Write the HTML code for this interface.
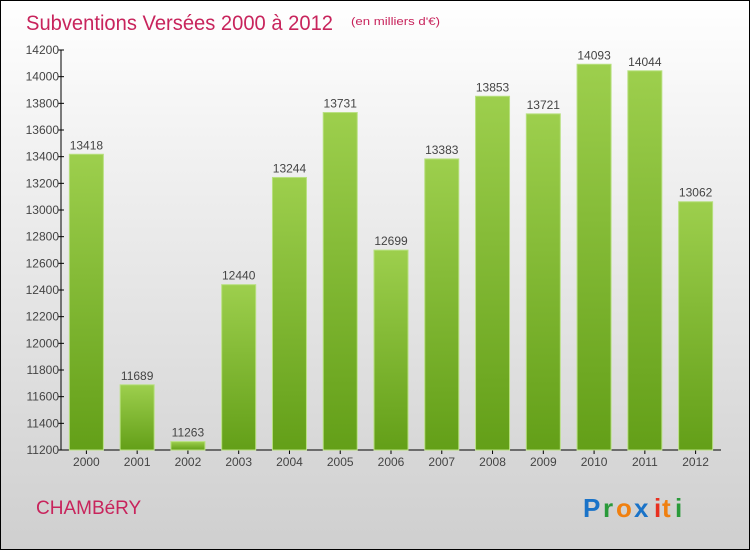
<!DOCTYPE html>
<html><head><meta charset="utf-8"><style>
body{margin:0;width:750px;height:550px;overflow:hidden;font-family:"Liberation Sans",sans-serif}
#frame{position:absolute;left:0;top:0;width:748px;height:548px;border:1px solid #000;background:linear-gradient(#ffffff 0%,#f0f0f0 30%,#cfcfcf 100%)}
</style></head><body>
<div id="frame">
<svg width="750" height="550" style="position:absolute;left:-1px;top:-1px" id="chart">
<defs><linearGradient id="g" x1="0" y1="0" x2="0" y2="1"><stop offset="0" stop-color="#9dcf4d"/><stop offset="1" stop-color="#639f18"/></linearGradient></defs>
<text x="26" y="30" font-size="21" fill="#c8245c" textLength="307" lengthAdjust="spacingAndGlyphs">Subventions Versées 2000 à 2012</text>
<text x="351" y="25" font-size="11" fill="#c8245c" textLength="89" lengthAdjust="spacingAndGlyphs">(en milliers d'€)</text>
<text x="36" y="514" font-size="19" fill="#c8245c">CHAMBéRY</text>
<g font-size="26" font-weight="bold">
<text x="583" y="517" fill="#1a73c8">P</text><text x="603" y="517" fill="#2a9a3a">r</text><text x="616" y="517" fill="#f08010">o</text><text x="634" y="517" fill="#1a73c8">x</text><text x="654" y="517" fill="#e83020">i</text><text x="662" y="517" fill="#f08010">t</text><text x="675" y="517" fill="#2a9a3a">i</text>
</g>
<g id="axes"></g><g id="bars"></g>
</svg></div>
<script>
const years=["2000","2001","2002","2003","2004","2005","2006","2007","2008","2009","2010","2011","2012"];
const values=[13418,11689,11263,12440,13244,13731,12699,13383,13853,13721,14093,14044,13062];
const ticks=[11200,11400,11600,11800,12000,12200,12400,12600,12800,13000,13200,13400,13600,13800,14000,14200];
const NS="http://www.w3.org/2000/svg";
const yMin=11200,yMax=14200,plotTop=50,plotBot=450,plotLeft=61,plotRight=721;
const ys=v=>plotBot-(v-yMin)/(yMax-yMin)*(plotBot-plotTop);
const step=(plotRight-plotLeft)/years.length;
const xs=i=>plotLeft+step*(i+0.5);
function mk(t,a,p){const e=document.createElementNS(NS,t);for(const k in a)e.setAttribute(k,a[k]);p.appendChild(e);return e;}
const ax=document.getElementById('axes'),bg=document.getElementById('bars');
let l=mk('line',{x1:plotLeft,y1:plotTop,x2:plotLeft,y2:plotBot,stroke:'#000'},ax);


l=mk('line',{x1:plotLeft,y1:plotBot,x2:plotRight,y2:plotBot,stroke:'#000'},ax);


ticks.forEach(t=>{
 mk('line',{x1:plotLeft-3,y1:ys(t),x2:plotLeft+3,y2:ys(t),stroke:'#000'},ax);
 const tx=mk('text',{x:plotLeft-2,y:ys(t)+4,'text-anchor':'end','font-size':12,fill:'#444'},ax);
 tx.textContent=t;
 
 
});
years.forEach((yr,i)=>{
 const w=34,cx=xs(i);
 const r=mk('rect',{x:cx-w/2,y:ys(values[i]),width:w,height:plotBot-ys(values[i]),fill:'url(#g)',stroke:'#b8e080','stroke-width':1},bg);
 
 
 const v=mk('text',{x:cx,y:ys(values[i])-5,'text-anchor':'middle','font-size':12,fill:'#444'},bg);
 v.textContent=values[i];
 
 
 mk('line',{x1:cx,y1:plotBot,x2:cx,y2:plotBot+4,stroke:'#000'},ax);
 const t=mk('text',{x:cx,y:plotBot+16,'text-anchor':'middle','font-size':12,fill:'#444'},ax);
 t.textContent=yr;
 
 
});
</script>
</body></html>
